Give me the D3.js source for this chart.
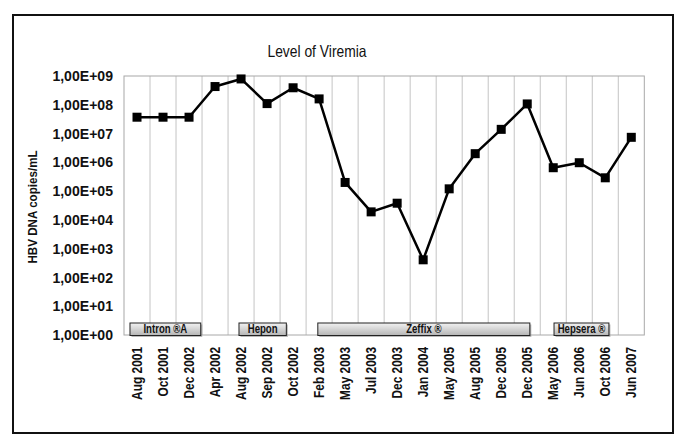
<!DOCTYPE html>
<html>
<head>
<meta charset="utf-8">
<script src="https://cdn.jsdelivr.net/npm/d3@7"></script>
<style>
  body { margin: 0; background: #fff; }
  svg text { font-family: "Liberation Sans Narrow", "Arial Narrow", "Liberation Sans", sans-serif; }
</style>
</head>
<body>
<div id="chart"></div>
<script>
// chart size and plot area
const width = 685;
const height = 446;
const margin = {left: 124, right: 40, top: 76, bottom: 111};

// data
const dates = ["Aug 2001", "Oct 2001", "Dec 2002", "Apr 2002", "Aug 2002", "Sep 2002", "Oct 2002",
  "Feb 2003", "May 2003", "Jul 2003", "Dec 2003", "Jan 2004", "May 2005", "Aug 2005", "Dec 2005",
  "Dec 2005 ", "May 2006", "Jun 2006", "Oct 2006", "Jun 2007"];
const viremia = [3.7e7, 3.7e7, 3.7e7, 4.3e8, 7.9e8, 1.1e8, 3.9e8, 1.6e8, 2.0e5, 1.9e4, 3.8e4,
  4.1e2, 1.2e5, 2.0e6, 1.4e7, 1.07e8, 6.5e5, 9.7e5, 2.9e5, 7.4e6];
const yTicks = [1e0, 1e1, 1e2, 1e3, 1e4, 1e5, 1e6, 1e7, 1e8, 1e9];
const yTickLabels = ["1,00E+00", "1,00E+01", "1,00E+02", "1,00E+03", "1,00E+04",
  "1,00E+05", "1,00E+06", "1,00E+07", "1,00E+08", "1,00E+09"];

// treatment periods, in units of sample index along the x axis
const drugNames = ["Intron \u00AEA", "Hepon", "Zeffix \u00AE", "Hepsera \u00AE"];
const drugStart = [0.23, 4.42, 7.45, 16.53];
const drugEnd = [2.95, 6.24, 15.6, 18.64];

// squeeze text horizontally, no narrow font is installed
function narrow(sel, k) {
  sel.each(function() {
    const w = this.getComputedTextLength();
    d3.select(this)
      .attr("textLength", w * k)
      .attr("lengthAdjust", "spacingAndGlyphs");
  });
}

const svg = d3.select("#chart")
  .append("svg")
  .attr("width", width)
  .attr("height", height);

// outer frame
svg.append("rect")
  .attr("x", 13).attr("y", 15)
  .attr("width", 660).attr("height", 418)
  .attr("fill", "none")
  .attr("stroke", "#111")
  .attr("stroke-width", 2);

// scales
let xScale = d3.scaleBand()
  .domain(dates)
  .range([margin.left, width - margin.right - 0.7])
  .padding(0);

let xIdx = d3.scaleLinear()
  .domain([0, dates.length])
  .range(xScale.range());

let yScale = d3.scaleLog()
  .domain([1, 1e9])
  .range([height - margin.bottom, margin.top]);

// vertical grid lines at category boundaries
svg.append("g")
  .selectAll("line")
  .data(d3.range(1, dates.length))
  .enter()
  .append("line")
    .attr("x1", d => xIdx(d)).attr("x2", d => xIdx(d))
    .attr("y1", yScale(1e9)).attr("y2", yScale(1))
    .attr("stroke", "#c4c4c4")
    .attr("stroke-width", 1);

// plot border
svg.append("rect")
  .attr("x", xIdx(0)).attr("y", yScale(1e9))
  .attr("width", xIdx(dates.length) - xIdx(0))
  .attr("height", yScale(1) - yScale(1e9))
  .attr("fill", "none")
  .attr("stroke", "#a8a8a8")
  .attr("stroke-width", 1);

// y axis
const yAxis = svg.append("g")
  .attr("transform", `translate(${margin.left}, 0)`)
  .call(d3.axisLeft(yScale)
    .tickValues(yTicks)
    .tickFormat((d, i) => yTickLabels[i])
    .tickSize(0)
    .tickPadding(11));
yAxis.select(".domain").remove();
yAxis.selectAll("text")
  .attr("font-size", "14.5px")
  .attr("font-weight", "bold")
  .attr("fill", "#111")
  .call(narrow, 0.97);

// x axis, labels rotated
const xAxis = svg.append("g")
  .attr("transform", `translate(0, ${height - margin.bottom})`)
  .call(d3.axisBottom(xScale).tickSize(0).tickPadding(0));
xAxis.select(".domain").remove();
xAxis.selectAll("text")
  .attr("font-size", "14.5px")
  .attr("font-weight", "bold")
  .attr("fill", "#111")
  .attr("text-anchor", "end")
  .attr("dy", "0.35em")
  .attr("transform", "translate(0, 12) rotate(-90)")
  .call(narrow, 0.82);

// title
svg.append("text")
  .attr("x", 317).attr("y", 57)
  .attr("text-anchor", "middle")
  .attr("font-size", "16.5px")
  .attr("fill", "#111")
  .text("Level of Viremia")
  .call(narrow, 0.84);

// y axis title
svg.append("text")
  .attr("transform", "translate(37, 207) rotate(-90)")
  .attr("text-anchor", "middle")
  .attr("font-size", "13.5px")
  .attr("font-weight", "bold")
  .attr("fill", "#111")
  .text("HBV DNA copies/mL")
  .call(narrow, 0.86);

// treatment bars
const defs = svg.append("defs");
const grad = defs.append("linearGradient")
  .attr("id", "drugFill")
  .attr("x1", 0).attr("y1", 0).attr("x2", 0).attr("y2", 1);
grad.append("stop").attr("offset", "0%").attr("stop-color", "#f2f2f2");
grad.append("stop").attr("offset", "100%").attr("stop-color", "#b5b5b5");

const barTop = yScale(1) - 12;
const barH = 12.5;
const drugs = svg.append("g")
  .selectAll("g")
  .data(drugNames)
  .enter()
  .append("g");

// shadow
drugs.append("rect")
  .attr("x", (d, i) => xIdx(drugStart[i]) + 1.5)
  .attr("y", barTop + 1.5)
  .attr("width", (d, i) => xIdx(drugEnd[i]) - xIdx(drugStart[i]))
  .attr("height", barH)
  .attr("fill", "#8a8a8a")
  .attr("opacity", 0.6);

drugs.append("rect")
  .attr("x", (d, i) => xIdx(drugStart[i]))
  .attr("y", barTop)
  .attr("width", (d, i) => xIdx(drugEnd[i]) - xIdx(drugStart[i]))
  .attr("height", barH)
  .attr("fill", "url(#drugFill)")
  .attr("stroke", "#222")
  .attr("stroke-width", 1);

drugs.append("text")
  .attr("x", (d, i) => (xIdx(drugStart[i]) + xIdx(drugEnd[i])) / 2)
  .attr("y", barTop + barH - 2.5)
  .attr("text-anchor", "middle")
  .attr("font-size", "12px")
  .attr("font-weight", "bold")
  .attr("fill", "#111")
  .text(d => d)
  .call(narrow, 0.8);

// line
const line = d3.line()
  .x((d, i) => xScale(dates[i]) + xScale.bandwidth() / 2)
  .y(d => yScale(d));

svg.append("path")
  .datum(viremia)
  .attr("d", line)
  .attr("fill", "none")
  .attr("stroke", "#000")
  .attr("stroke-width", 2.5)
  .attr("stroke-linejoin", "round");

// square markers
svg.selectAll(".pt")
  .data(viremia)
  .enter()
  .append("rect")
    .attr("class", "pt")
    .attr("x", (d, i) => xScale(dates[i]) + xScale.bandwidth() / 2 - 4.5)
    .attr("y", d => yScale(d) - 4.5)
    .attr("width", 9)
    .attr("height", 9)
    .attr("fill", "#000");
</script>
</body>
</html>
